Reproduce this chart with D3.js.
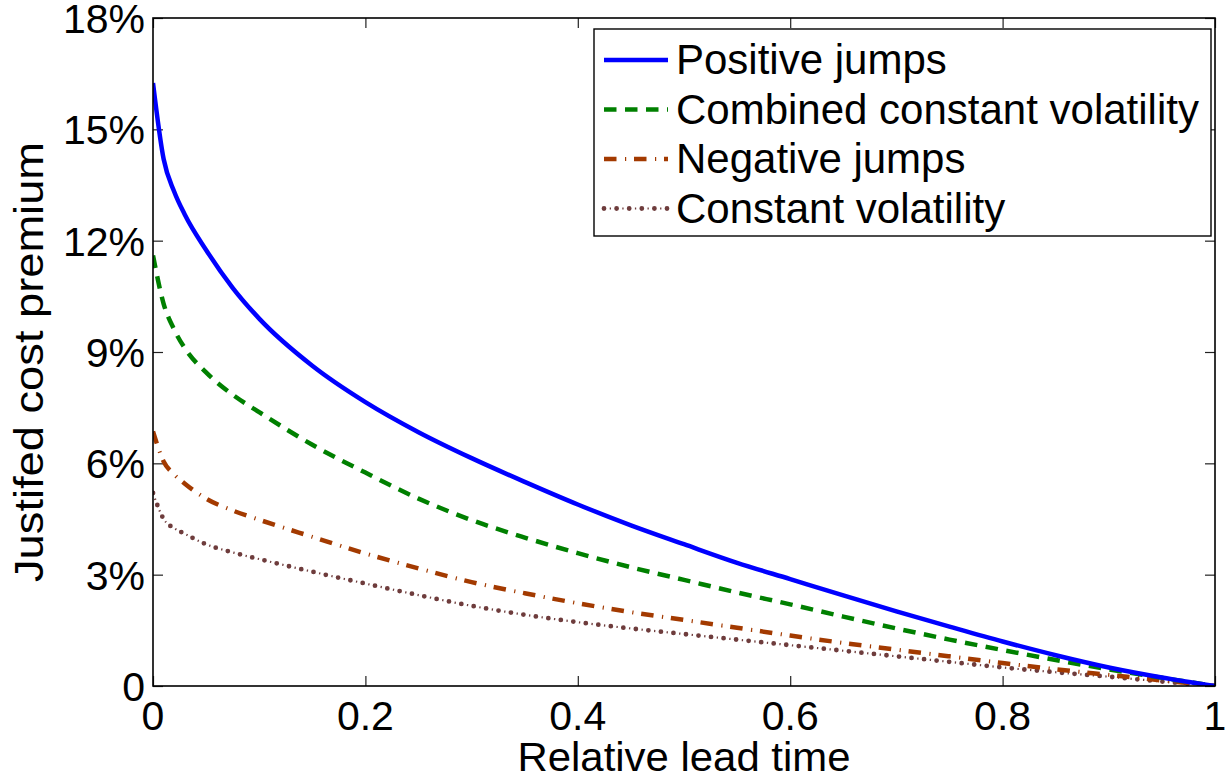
<!DOCTYPE html>
<html>
<head>
<meta charset="utf-8">
<script src="https://cdn.jsdelivr.net/npm/d3@7/dist/d3.min.js"></script>
<style>
  html, body { margin: 0; padding: 0; background: #fff; }
  svg { display: block; }
  text { font-family: "Liberation Sans", Arial, Helvetica, sans-serif; fill: #000; }
</style>
</head>
<body>
<svg id="chart" width="1225" height="777"></svg>
<script>
// ---- Data ----
const leadTime = [0, 0.01, 0.02, 0.03, 0.05, 0.075, 0.1, 0.15, 0.2, 0.25, 0.3, 0.35, 0.4, 0.45, 0.5,
                  0.55, 0.6, 0.65, 0.7, 0.75, 0.8, 0.85, 0.9, 0.95, 1.0];
const positiveJumps = [16.25, 14.2, 13.32, 12.7, 11.75, 10.73, 9.9, 8.63, 7.65, 6.84, 6.14, 5.5, 4.89, 4.33, 3.82,
                       3.32, 2.88, 2.44, 2.01, 1.6, 1.2, 0.83, 0.5, 0.23, 0];
const combinedConstVol = [11.6, 10.3, 9.6, 9.1, 8.45, 7.85, 7.38, 6.5, 5.75, 5.05, 4.47, 4.0, 3.58, 3.2, 2.86,
                          2.52, 2.2, 1.87, 1.55, 1.25, 0.97, 0.7, 0.45, 0.22, 0];
const negativeJumps = [6.86, 6.05, 5.7, 5.45, 5.05, 4.73, 4.48, 4.02, 3.57, 3.17, 2.8, 2.5, 2.23, 1.99, 1.78,
                       1.57, 1.36, 1.16, 0.98, 0.8, 0.62, 0.45, 0.3, 0.15, 0];
const constantVol = [5.2, 4.5, 4.25, 4.1, 3.82, 3.6, 3.42, 3.08, 2.76, 2.45, 2.16, 1.92, 1.72, 1.55, 1.4,
                     1.25, 1.1, 0.95, 0.8, 0.65, 0.5, 0.37, 0.25, 0.12, 0];
const seriesNames = ["Positive jumps", "Combined constant volatility", "Negative jumps", "Constant volatility"];
const xTicks = [0, 0.2, 0.4, 0.6, 0.8, 1];
const xTickLabels = ["0", "0.2", "0.4", "0.6", "0.8", "1"];
const yTicks = [0, 3, 6, 9, 12, 15, 18];
const yTickLabels = ["0", "3%", "6%", "9%", "12%", "15%", "18%"];

(function () {
// ---- Styles: each series may be drawn as several stroke layers ----
const styles = [
  { color: "#0000ff", layers: [{ dash: null, width: 4.5, cap: "butt" }] },
  { color: "#008000", layers: [{ dash: "12.5,8.5", width: 4.5, cap: "butt" }] },
  { color: "#a33a00", layers: [{ dash: "12.5,17.5", width: 4.5, cap: "butt" },
                               { dash: "1.2,28.8", width: 4, cap: "butt", offset: -21 }] },
  { color: "#6e3c3c", layers: [{ dash: "0,12.6", width: 4.8, cap: "round" },
                               { dash: "1.3,11.3", width: 2.2, cap: "butt", offset: -5.7 }] }
];
const seriesData = [positiveJumps, combinedConstVol, negativeJumps, constantVol];

const svg = d3.select("#chart");
const pL = 153, pR = 1215, pT = 18, pB = 686;
const x = d3.scaleLinear().domain([0, 1]).range([pL, pR]);
const y = d3.scaleLinear().domain([0, 18]).range([pB, pT]);
const fs = 41;

svg.append("clipPath").attr("id", "clip").append("rect")
  .attr("x", pL).attr("y", pT).attr("width", pR - pL).attr("height", pB - pT);

// ticks inside, all four sides
const tickLen = 10;
const gB = svg.append("g").attr("transform", `translate(0,${pB})`)
  .call(d3.axisTop(x).tickValues(xTicks).tickSize(tickLen).tickFormat(""));
const gT = svg.append("g").attr("transform", `translate(0,${pT})`)
  .call(d3.axisBottom(x).tickValues(xTicks).tickSize(tickLen).tickFormat(""));
const gL = svg.append("g").attr("transform", `translate(${pL},0)`)
  .call(d3.axisRight(y).tickValues(yTicks).tickSize(tickLen).tickFormat(""));
const gR = svg.append("g").attr("transform", `translate(${pR},0)`)
  .call(d3.axisLeft(y).tickValues(yTicks).tickSize(tickLen).tickFormat(""));
[gB, gT, gL, gR].forEach(g => {
  g.select(".domain").remove();
  g.selectAll(".tick line").attr("stroke", "#222").attr("stroke-width", 1.2);
});

// tick labels
svg.append("g").selectAll("text").data(xTicks).join("text")
  .attr("x", d => x(d)).attr("y", 730)
  .attr("text-anchor", "middle").attr("font-size", fs)
  .text((d, i) => xTickLabels[i]);
svg.append("g").selectAll("text").data(yTicks).join("text")
  .attr("x", pL - 8).attr("y", d => y(d) + 15)
  .attr("text-anchor", "end").attr("font-size", fs)
  .text((d, i) => yTickLabels[i]);

// lines
const line = d3.line().x((d, i) => x(leadTime[i])).y(d => y(d)).curve(d3.curveMonotoneX);
const gLines = svg.append("g").attr("clip-path", "url(#clip)");
[3, 2, 1, 0].forEach(k => {
  const s = styles[k];
  s.layers.forEach(L => {
    gLines.append("path").datum(seriesData[k])
      .attr("d", line)
      .attr("fill", "none")
      .attr("stroke", s.color)
      .attr("stroke-width", L.width)
      .attr("stroke-linecap", L.cap)
      .attr("stroke-linejoin", "round")
      .attr("stroke-dasharray", L.dash)
      .attr("stroke-dashoffset", L.offset || 0);
  });
});

// frame
svg.append("rect").attr("x", pL).attr("y", pT)
  .attr("width", pR - pL).attr("height", pB - pT)
  .attr("fill", "none").attr("stroke", "#000").attr("stroke-width", 1.6);

// legend
const lg = svg.append("g");
lg.append("rect").attr("x", 594).attr("y", 29).attr("width", 1211 - 594).attr("height", 236 - 29)
  .attr("fill", "#fff").attr("stroke", "#000").attr("stroke-width", 1.4);
const rowY = [60, 109.5, 159, 208.5];
seriesNames.forEach((name, k) => {
  const s = styles[k];
  s.layers.forEach(L => {
    lg.append("line").attr("x1", 604).attr("x2", 668).attr("y1", rowY[k]).attr("y2", rowY[k])
      .attr("stroke", s.color).attr("stroke-width", L.width)
      .attr("stroke-linecap", L.cap).attr("stroke-dasharray", L.dash)
      .attr("stroke-dashoffset", L.offset || 0);
  });
  lg.append("text").attr("x", 676).attr("y", rowY[k] + 14).attr("font-size", 42).text(name);
});

// axis titles
svg.append("text").attr("x", (pL + pR) / 2).attr("y", 771)
  .attr("text-anchor", "middle").attr("font-size", fs)
  .attr("textLength", 333).attr("lengthAdjust", "spacingAndGlyphs")
  .text("Relative lead time");
svg.append("text").attr("transform", `translate(43,362) rotate(-90)`)
  .attr("text-anchor", "middle").attr("font-size", fs)
  .attr("textLength", 440).attr("lengthAdjust", "spacingAndGlyphs")
  .text("Justifed cost premium");
})();
</script>
</body>
</html>
